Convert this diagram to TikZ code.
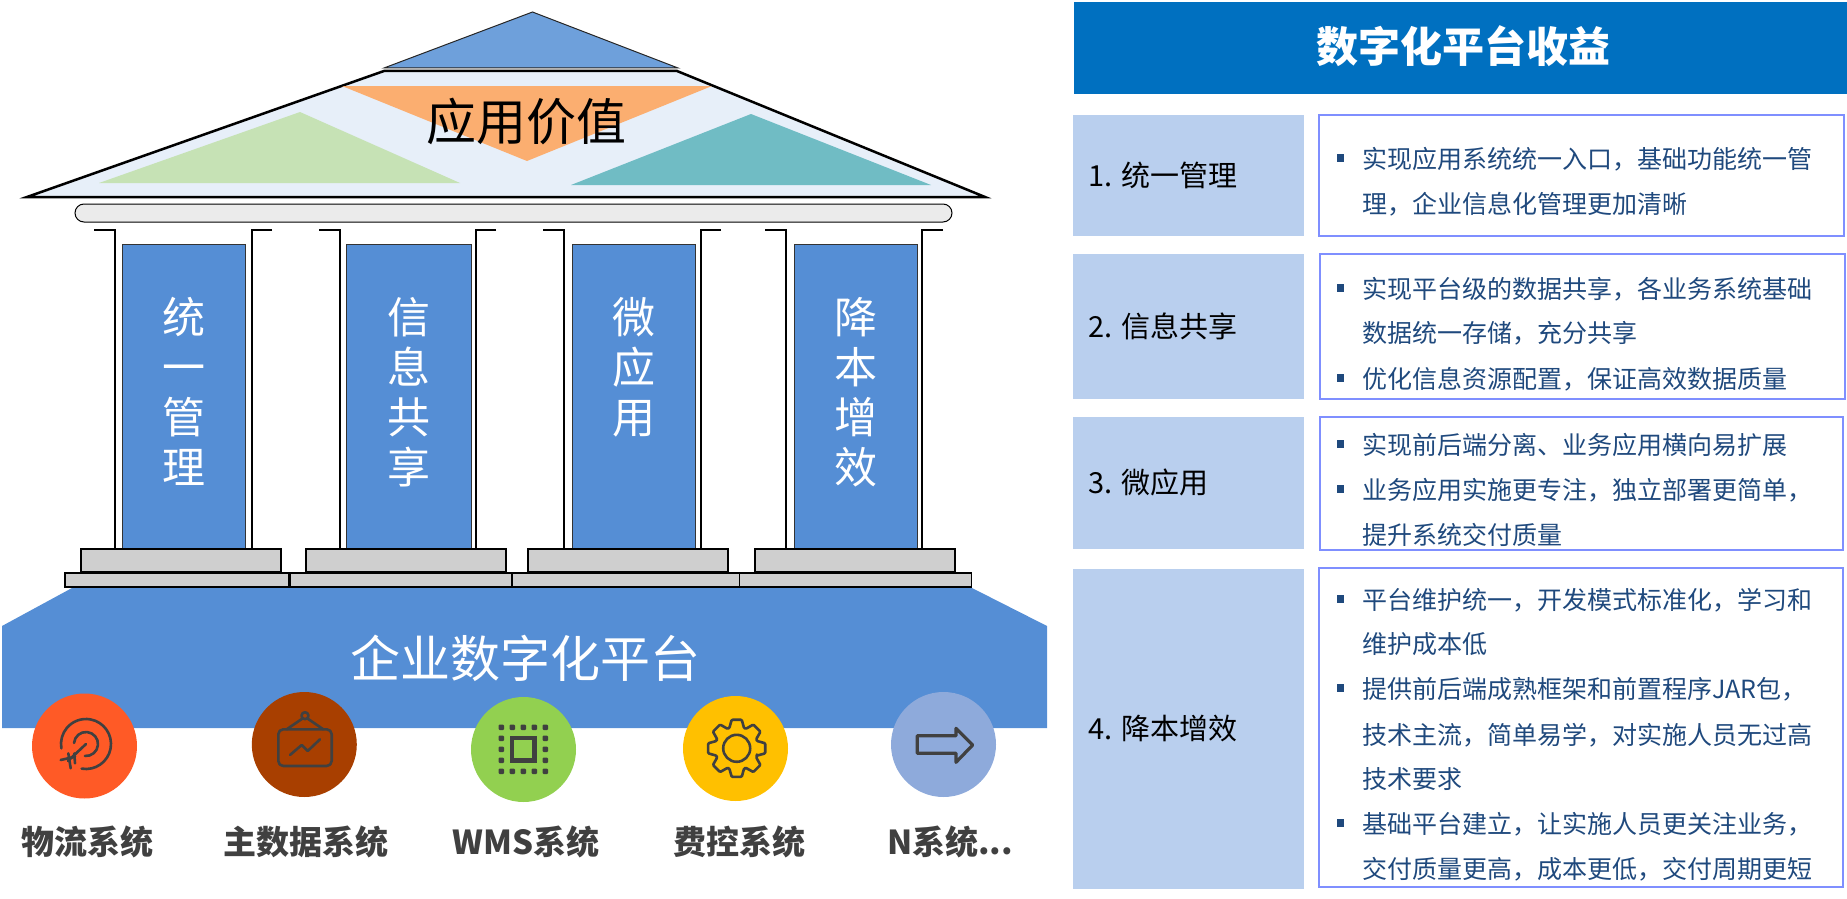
\documentclass[tikz,border=0pt]{standalone}
\usepackage{xcolor}
\usepackage{fontspec}
\setmainfont{Noto Sans CJK SC}
\usetikzlibrary{calc,positioning}
\definecolor{roofPale}{RGB}{231,239,249}
\definecolor{roofTop}{RGB}{110,160,219}
\definecolor{roofOrange}{RGB}{251,174,112}
\definecolor{roofGreen}{RGB}{198,226,181}
\definecolor{roofTeal}{RGB}{112,188,196}
\definecolor{beamGray}{RGB}{235,235,235}
\definecolor{baseGray}{RGB}{207,207,207}
\definecolor{pillarBlue}{RGB}{85,142,213}
\definecolor{headBlue}{RGB}{0,112,192}
\definecolor{tagBlue}{RGB}{185,207,238}
\definecolor{frameBlue}{RGB}{127,143,255}
\definecolor{lineNavy}{RGB}{31,73,125}
\definecolor{iconGray}{RGB}{64,64,64}
\definecolor{sysRed}{RGB}{255,90,38}
\definecolor{sysBrown}{RGB}{168,63,0}
\definecolor{sysGreen}{RGB}{146,208,80}
\definecolor{sysYellow}{RGB}{255,192,0}
\definecolor{sysPeriwinkle}{RGB}{142,170,219}
\newcommand{\pxfont}[1]{\fontsize{#1}{#1}\selectfont}
\tikzset{
  word/.style={inner sep=0pt,text height=.90*#1pt,text depth=.10*#1pt,font=\pxfont{#1}},
  pillarword/.style={inner sep=0pt,white,align=center,font=\fontsize{43}{50}\selectfont},
  syslabel/.style={inner sep=0pt,text height=29.4pt,text depth=3.6pt,iconGray,font=\pxfont{33}\bfseries},
  tagword/.style={word=29,anchor=west,black},
  lineword/.style={word=25,anchor=west,lineNavy},
  icon/.style={iconGray,line width=2.6pt,line cap=round,line join=round}
}
\begin{document}
\begin{tikzpicture}[x=1pt,y=-1pt]
  \useasboundingbox (0,0) rectangle (1847,899);
  % toit
  \draw[black!85,fill=roofTop,line width=1pt] (532.5,12)--(678,68)--(384,68)--cycle;
  \draw[black,fill=roofPale,line width=2.5pt] (27,197)--(384,71)--(677,71)--(985,197)--cycle;
  \fill[roofOrange] (342,86)--(712,86)--(527,161)--cycle;
  \fill[roofGreen] (300,112)--(460,183)--(99,183)--cycle;
  \fill[roofTeal] (751,114)--(931,185)--(571,185)--cycle;
  \node[word=50,black] (roofTitle) at (526,120) {应用价值};
  \draw[black,fill=beamGray,line width=1pt,rounded corners=9pt] (75,204) rectangle (952,222);
  % colonnes et socles
  \foreach \lo/\li/\ri/\ro/\ba/\bb/\bx in {
    94/115/252/272/122/245/80.5,
    319/340/476/496/346.5/471/305.5,
    543/564/701/721/572/695/528,
    765/786/922/943/794/917/754.5}{
    \draw[black,line width=2.5pt] (\lo,230)--(\li,230)--(\li,548);
    \draw[black,line width=2.5pt] (\ro,230)--(\ri,230)--(\ri,548);
    \draw[black!80,fill=pillarBlue,line width=1pt] (\ba,244) rectangle (\bb,548);
    \draw[black,fill=baseGray,line width=2pt] (\bx,548.5) rectangle ++(200,23.5);
  }
  \node[pillarword,anchor=north] (pillarOne) at (183.5,297) {统\\一\\管\\理};
  \node[pillarword,anchor=north] (pillarTwo) at (408.5,297) {信\\息\\共\\享};
  \node[pillarword,anchor=north] (pillarThree) at (633.5,297) {微\\应\\用};
  \node[pillarword,anchor=north] (pillarFour) at (855.5,297) {降\\本\\增\\效};
  \draw[black,fill=baseGray,line width=1.5pt] (289.4,573) rectangle (512,587);
  \draw[black,fill=baseGray,line width=1.5pt] (512,573) rectangle (739.7,587);
  \draw[black,fill=baseGray,line width=1.5pt] (739.7,573) rectangle (971.6,587);
  \draw[black,fill=baseGray,line width=2.5pt] (65,573) rectangle (289.4,587);
  % plateforme
  \fill[pillarBlue] (72,588)--(972,588)--(1047,626)--(1047,728)--(2,728)--(2,626)--cycle;
  \node[word=50,white] (platformTitle) at (525,657) {企业数字化平台};
  \fill[sysRed] (84.5,746) circle[radius=52.5pt];
  \fill[sysBrown] (304.3,744.5) circle[radius=52.5pt];
  \fill[sysGreen] (523.5,749.5) circle[radius=52.5pt];
  \fill[sysYellow] (735.5,748.5) circle[radius=52.5pt];
  \fill[sysPeriwinkle] (943.5,744.5) circle[radius=52.5pt];
  % icones
  \begin{scope}[shift={(86,744)}]
    \draw[icon] (260:25pt) arc[start angle=260,end angle=550,radius=25pt];
    \draw[icon] (265:12pt) arc[start angle=265,end angle=535,radius=12pt];
  \end{scope}
  \draw[icon] (86,744)--(68,761);
  \draw[icon] (60.7,760)--(75,756.7);
  \draw[icon] (68.3,753.3)--(70.7,768.3);
  \draw[icon] (74.3,753.3)--(75,763.3);
  \draw[icon,rounded corners=5pt] (278.3,729.3) rectangle (331.7,766);
  \draw[icon] (305,715.7) circle[radius=3.5pt];
  \draw[icon] (302.5,718.5)--(286.7,729.3);
  \draw[icon] (307.5,718.5)--(323.3,729.3);
  \draw[icon] (290,755)--(301.7,745)--(307.7,751)--(320,739.3);
  \draw[iconGray,line width=4.7pt] (512,738) rectangle (534.6,760.6);
  \foreach \dx in {-22,-11,0,11,22}
    \foreach \dy in {-22,-11,0,11,22}{
      \pgfmathparse{abs(\dx)==22||abs(\dy)==22 ? 1 : 0}
      \ifnum\pgfmathresult=1
        \fill[iconGray,rounded corners=1pt] (523.3+\dx-2.7,749.3+\dy-2.7) rectangle ++(5.4,5.4);
      \fi
    }
  \begin{scope}[shift={(736.7,748.3)}]
    \draw[icon] (0,0) circle[radius=13.5pt];
    \draw[icon,rounded corners=1pt] (-20:21.5pt)
      foreach \a in {0,45,...,315}{ --(\a-20:21.5pt)--(\a-10:29pt)--(\a+10:29pt)--(\a+20:21.5pt) } --cycle;
  \end{scope}
  \draw[icon,line width=3.2pt] (917.3,735.7)--(956,735.7)--(956,728.3)--(972.7,745)--(956,762.3)--(956,753.3)--(917.3,753.3)--cycle;
  % noms des systemes
  \node[syslabel] (sysWuliu) at (87,842) {物流系统};
  \node[syslabel] (sysZhu) at (306,842) {主数据系统};
  \node[syslabel] (sysWms) at (526,842) {WMS系统};
  \node[syslabel] (sysFei) at (739,842) {费控系统};
  \node[syslabel] (sysN) at (950,842) {N系统...};
  % colonne de droite
  \fill[headBlue] (1074,2) rectangle (1847,94);
  \node[inner sep=0pt,text height=36.8pt,text depth=5.2pt,white,font=\pxfont{42}\bfseries] (gainTitle) at (1463,47) {数字化平台收益};
  \foreach \ytop/\ybot/\xa/\xb in {115/236/1318.5/1843.5,254/399/1320/1845,417/550/1320/1843,568/887/1318.5/1843}
    \draw[frameBlue,line width=2pt] (\xa,\ytop) rectangle (\xb,\ybot);
  \fill[tagBlue] (1073,115) rectangle (1304,236);
  \fill[tagBlue] (1073,254) rectangle (1304,399);
  \fill[tagBlue] (1073,417) rectangle (1304,549);
  \fill[tagBlue] (1073,569) rectangle (1304,889);
  \node[tagword] (tagOne) at (1088,175) {1. 统一管理};
  \node[tagword] (tagTwo) at (1088,326) {2. 信息共享};
  \node[tagword] (tagThree) at (1088,482) {3. 微应用};
  \node[tagword] (tagFour) at (1088,728) {4. 降本增效};
  \foreach \ypos/\txt in {
    158/实现应用系统统一入口，基础功能统一管,
    203/理，企业信息化管理更加清晰,
    288/实现平台级的数据共享，各业务系统基础,
    332/数据统一存储，充分共享,
    378/优化信息资源配置，保证高效数据质量,
    444/实现前后端分离、业务应用横向易扩展,
    489/业务应用实施更专注，独立部署更简单，,
    534/提升系统交付质量,
    599/平台维护统一，开发模式标准化，学习和,
    643/维护成本低,
    688/提供前后端成熟框架和前置程序JAR包，,
    734/技术主流，简单易学，对实施人员无过高,
    778/技术要求,
    823/基础平台建立，让实施人员更关注业务，,
    868/交付质量更高，成本更低，交付周期更短}
    \node[lineword] (line\ypos) at (1362,\ypos) {\txt};
  \foreach \ypos in {158,288,378,444,489,599,688,823}
    \fill[lineNavy] (1336.5,\ypos-3.6) rectangle ++(7.4,7.2);
\end{tikzpicture}
\end{document}
